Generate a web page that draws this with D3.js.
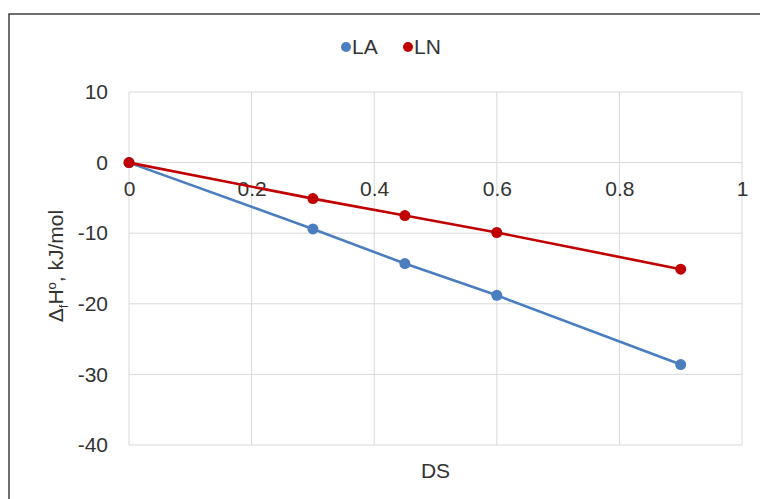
<!DOCTYPE html>
<html>
<head>
<meta charset="utf-8">
<script src="https://cdn.jsdelivr.net/npm/d3@7"></script>
<style>
  body { margin: 0; background: #fff; }
  text { font-family: "Liberation Sans", Arial, sans-serif; fill: #333; }
</style>
</head>
<body>
<svg id="chart" width="760" height="499"></svg>
<script>
// data
const ds = [0, 0.3, 0.45, 0.6, 0.9];
const laValues = [0, -9.4, -14.3, -18.8, -28.6];
const lnValues = [0, -5.1, -7.5, -9.9, -15.1];
const xTicks = [0, 0.2, 0.4, 0.6, 0.8, 1];
const yTicks = [10, 0, -10, -20, -30, -40];
const seriesNames = ["LA", "LN"];

const colors = { LA: "#4a7ebf", LN: "#c00000" };
const margin = { top: 92, right: 18, bottom: 54, left: 129 };
const width = 760 - margin.left - margin.right;
const height = 499 - margin.top - margin.bottom;

const svg = d3.select("#chart");

// outer frame
svg.append("rect")
  .attr("x", 9).attr("y", 14)
  .attr("width", 760).attr("height", 500)
  .attr("fill", "none").attr("stroke", "#222").attr("stroke-width", 1.3);

const g = svg.append("g")
  .attr("transform", "translate(" + margin.left + "," + margin.top + ")");

const x = d3.scaleLinear().domain([0, 1]).range([0, width]);
const y = d3.scaleLinear().domain([-40, 10]).range([height, 0]);

// grid
g.append("g").selectAll("line.v")
  .data(xTicks).enter().append("line")
  .attr("x1", d => x(d)).attr("x2", d => x(d))
  .attr("y1", 0).attr("y2", height)
  .attr("stroke", "#d9d9d9").attr("stroke-width", 1);
g.append("g").selectAll("line.h")
  .data(yTicks).enter().append("line")
  .attr("x1", 0).attr("x2", width)
  .attr("y1", d => y(d)).attr("y2", d => y(d))
  .attr("stroke", "#d9d9d9").attr("stroke-width", 1);

// y tick labels
const yAxis = g.append("g")
  .call(d3.axisLeft(y).tickValues(yTicks).tickSize(0).tickPadding(21)
    .tickFormat(d => String(d)));
yAxis.select(".domain").remove();
yAxis.selectAll("text").style("font-size", "21px").attr("fill", "#333");

// x tick labels sit just under the zero line
const xAxis = g.append("g")
  .attr("transform", "translate(0," + y(0) + ")")
  .call(d3.axisBottom(x).tickValues(xTicks).tickSize(0).tickPadding(18)
    .tickFormat(d => String(d)));
xAxis.select(".domain").remove();
xAxis.selectAll("text").style("font-size", "21px").attr("fill", "#333");

// series
const series = [
  { name: "LA", values: laValues },
  { name: "LN", values: lnValues }
];

const line = d3.line()
  .x((d, i) => x(ds[i]))
  .y(d => y(d));

series.forEach(s => {
  g.append("path")
    .datum(s.values)
    .attr("d", line)
    .attr("fill", "none")
    .attr("stroke", colors[s.name])
    .attr("stroke-width", 2.6);
  g.append("g").selectAll("circle")
    .data(s.values).enter().append("circle")
    .attr("cx", (d, i) => x(ds[i]))
    .attr("cy", d => y(d))
    .attr("r", 5.5)
    .attr("fill", colors[s.name]);
});

// legend
const legend = svg.append("g").attr("transform", "translate(0,47)");
const legendX = [346, 408];
seriesNames.forEach((n, i) => {
  legend.append("circle")
    .attr("cx", legendX[i]).attr("cy", 0).attr("r", 5)
    .attr("fill", colors[n]);
  legend.append("text")
    .attr("x", legendX[i] + 6).attr("y", 0)
    .attr("dy", "0.35em")
    .style("font-size", "21px")
    .text(n);
});

// axis titles
svg.append("text")
  .attr("x", margin.left + x(0.5)).attr("y", 478)
  .attr("text-anchor", "middle")
  .style("font-size", "21px")
  .text("DS");

const yt = svg.append("text")
  .attr("transform", "translate(63,266) rotate(-90)")
  .attr("text-anchor", "middle")
  .style("font-size", "21px");
yt.append("tspan").text("Δ");
yt.append("tspan").attr("dy", 5).style("font-size", "13px").text("f");
yt.append("tspan").attr("dy", -5).text("H");
yt.append("tspan").attr("dy", -7).style("font-size", "13px").text("o");
yt.append("tspan").attr("dy", 7).text(", kJ/mol");
</script>
</body>
</html>
